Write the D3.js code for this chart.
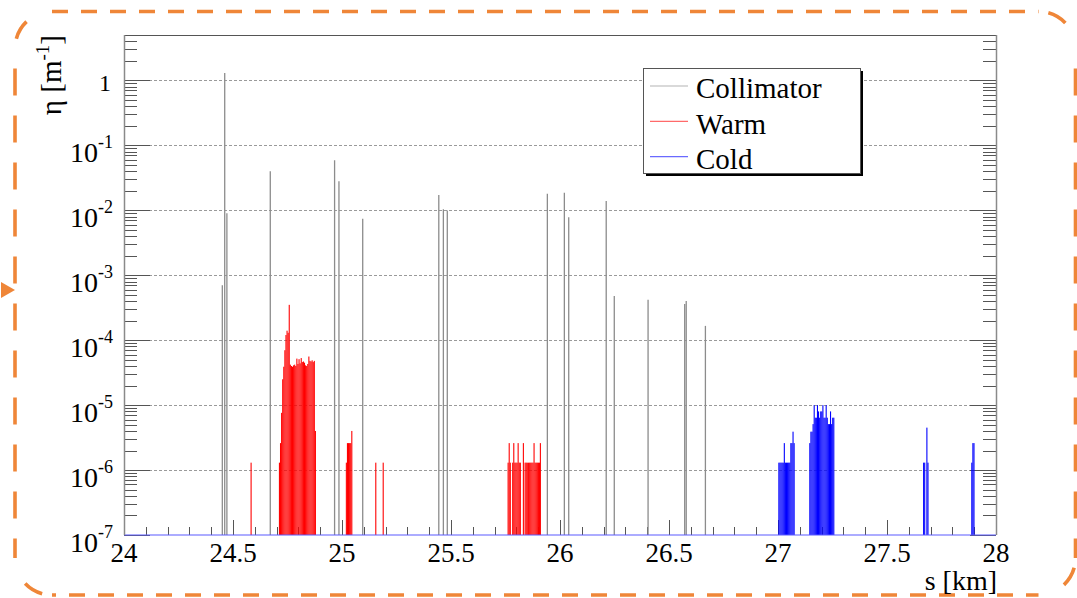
<!DOCTYPE html>
<html><head><meta charset="utf-8">
<script src="https://cdn.jsdelivr.net/npm/d3@7"></script>
<style>
html,body{margin:0;padding:0;background:#fff;overflow:hidden}
svg text{font-family:"Liberation Serif","Tinos","Times New Roman","DejaVu Serif",serif;}
</style>
</head><body>
<svg id="chart" width="1077" height="598"></svg>
<script>
// ---- data ----
const xMajorTicks = [24, 24.5, 25, 25.5, 26, 26.5, 27, 27.5, 28];
const xTickLabels = ["24", "24.5", "25", "25.5", "26", "26.5", "27", "27.5", "28"];
const yExponents = [-7, -6, -5, -4, -3, -2, -1, 0];
const seriesNames = ["Collimator", "Warm", "Cold"];
const seriesColors = ["#8c8c8c", "#ff0000", "#0000ff"];
const legendColors = ["#b4b4b4", "#ff6a6a", "#6a6aff"];
const xTitle = "s [km]";
const binWidth = 0.005; // km

const collimatorS = [24.451, 24.462, 24.472, 24.671, 24.966, 24.986, 25.095, 25.444, 25.465, 25.483,
                     25.942, 26.020, 26.040, 26.212, 26.249, 26.404, 26.572, 26.579, 26.667];
const collimatorEta = [7e-4, 1.3, 9e-3, 0.040, 0.059, 0.028, 7.4e-3, 0.0172, 0.0104, 0.0099,
                       0.018, 0.0186, 0.0078, 0.0139, 4.8e-4, 4.2e-4, 3.6e-4, 4.0e-4, 1.66e-4];

const warmS = [24.583,
  24.713, 24.718, 24.723, 24.728, 24.733, 24.738, 24.743, 24.748, 24.753, 24.758,
  24.763, 24.768, 24.773, 24.778, 24.783, 24.788, 24.793, 24.798, 24.803, 24.808,
  24.813, 24.818, 24.823, 24.828, 24.833, 24.838, 24.843, 24.848, 24.853, 24.858,
  24.863, 24.868, 24.873, 24.878,
  25.020, 25.025, 25.030, 25.035, 25.040, 25.045,
  25.155, 25.189,
  25.762, 25.767, 25.772, 25.783, 25.788, 25.793, 25.798, 25.803, 25.808, 25.813, 25.818,
  25.832, 25.840, 25.845, 25.850, 25.856, 25.861, 25.866, 25.871, 25.876, 25.881,
  25.886, 25.891, 25.896, 25.901, 25.906, 25.910];
const warmEta = [1.3e-6,
  1.3e-6, 2.6e-6, 7.6e-6, 2.5e-5, 3.9e-5, 7.0e-5, 1.2e-4, 1.4e-4, 1.3e-4, 3.5e-4,
  4.2e-5, 4.0e-5, 3.9e-5, 4.1e-5, 4.2e-5, 4.0e-5, 5.2e-5, 4.3e-5, 5.1e-5, 4.4e-5,
  5.3e-5, 4.6e-5, 4.7e-5, 4.5e-5, 4.1e-5, 4.0e-5, 4.3e-5, 5.6e-5, 4.8e-5, 4.7e-5,
  4.9e-5, 4.6e-5, 4.8e-5, 4.0e-6,
  1.3e-6, 2.6e-6, 2.6e-6, 2.6e-6, 2.6e-6, 4.0e-6,
  1.3e-6, 1.3e-6,
  1.3e-6, 2.6e-6, 1.3e-6, 1.3e-6, 2.6e-6, 1.3e-6, 1.3e-6, 1.3e-6, 2.6e-6, 1.3e-6, 1.3e-6,
  2.6e-6, 1.3e-6, 1.3e-6, 1.3e-6, 1.3e-6, 1.3e-6, 1.3e-6, 1.3e-6, 1.3e-6, 2.6e-6,
  1.3e-6, 1.3e-6, 1.3e-6, 1.3e-6, 1.3e-6, 2.6e-6];

const coldS = [27.004, 27.009, 27.014, 27.019, 27.024, 27.029, 27.034, 27.039, 27.044, 27.049,
  27.054, 27.059, 27.064, 27.069, 27.074,
  27.146, 27.151, 27.156, 27.161, 27.166, 27.171, 27.176, 27.181, 27.186, 27.191,
  27.196, 27.201, 27.206, 27.211, 27.216, 27.221, 27.226, 27.231, 27.236, 27.241,
  27.246, 27.251, 27.256,
  27.668, 27.673, 27.683, 27.688,
  27.889, 27.894, 27.899];
const coldEta = [1.3e-6, 1.3e-6, 1.3e-6, 1.3e-6, 1.3e-6, 2.6e-6, 1.3e-6, 1.3e-6, 1.3e-6, 1.3e-6,
  1.3e-6, 2.6e-6, 2.6e-6, 3.9e-6, 2.6e-6,
  2.6e-6, 3.9e-6, 3.9e-6, 5.1e-6, 1.0e-5, 6.4e-6, 6.4e-6, 1.0e-5, 8.0e-6, 6.4e-6,
  8.0e-6, 8.0e-6, 1.0e-5, 6.4e-6, 6.4e-6, 1.0e-5, 6.4e-6, 5.1e-6, 5.1e-6, 8.0e-6,
  5.1e-6, 6.4e-6, 6.4e-6,
  1.3e-6, 1.3e-6, 4.5e-6, 1.3e-6,
  1.3e-6, 2.6e-6, 2.6e-6];

// ---- layout ----
const svg = d3.select("#chart");
const L = 124, R = 996, T = 35, B = 535;
const x = d3.scaleLinear().domain([24, 28]).range([L, R]);
const y = d3.scaleLog().domain([1e-7, 5]).range([B, T]);
const ORANGE = "#ef8638";

// ---- outer dashed rounded frame ----
(function () {
  const l = 15, r = 1075.5, t = 11.5, b = 595, rad = 37;
  const g = svg.append("g").attr("fill", "none").attr("stroke", ORANGE).attr("stroke-width", 3.6);
  g.append("line").attr("x1", l + rad).attr("x2", r - rad).attr("y1", t).attr("y2", t)
    .attr("stroke-dasharray", "16,13");
  g.append("line").attr("x1", l + rad).attr("x2", r - rad).attr("y1", b).attr("y2", b)
    .attr("stroke-dasharray", "16,13").attr("stroke-dashoffset", 12);
  g.append("line").attr("x1", l).attr("x2", l).attr("y1", t + rad).attr("y2", b - rad)
    .attr("stroke-dasharray", "27,20").attr("stroke-dashoffset", 27);
  g.append("line").attr("x1", r).attr("x2", r).attr("y1", t + rad).attr("y2", b - rad)
    .attr("stroke-dasharray", "27,20").attr("stroke-dashoffset", 27);
  const corners = [
    `M${l},${t + rad} A${rad},${rad} 0 0 1 ${l + rad},${t}`,
    `M${r - rad},${t} A${rad},${rad} 0 0 1 ${r},${t + rad}`,
    `M${r},${b - rad} A${rad},${rad} 0 0 1 ${r - rad},${b}`,
    `M${l + rad},${b} A${rad},${rad} 0 0 1 ${l},${b - rad}`
  ];
  corners.forEach(d => g.append("path").attr("d", d).attr("stroke-dasharray", "0,10,20,40"));
  svg.append("path").attr("d", "M1,282 L15,290 L1,298 Z").attr("fill", ORANGE);
})();

// ---- grid ----
const gridG = svg.append("g");
yExponents.filter(e => e > -7).forEach(e => {
  const yy = Math.round(y(Math.pow(10, e))) + 0.5;
  gridG.append("line").attr("x1", L).attr("x2", R).attr("y1", yy).attr("y2", yy)
    .attr("stroke", "#9a9a9a").attr("stroke-width", 1).attr("stroke-dasharray", "3,2");
});

// ---- axes ticks ----
const axG = svg.append("g").attr("stroke", "#555").attr("stroke-width", 1);
yExponents.forEach(e => {
  const d = Math.pow(10, e);
  const yy = Math.round(y(d)) + 0.5;
  axG.append("line").attr("x1", L).attr("x2", L + 26).attr("y1", yy).attr("y2", yy);
  axG.append("line").attr("x1", R).attr("x2", R - 26).attr("y1", yy).attr("y2", yy);
  for (let k = 2; k <= 9; k++) {
    const v = k * d;
    if (v > 5.0001) continue;
    const ym = Math.round(y(v)) + 0.5;
    axG.append("line").attr("x1", L).attr("x2", L + 13).attr("y1", ym).attr("y2", ym);
    axG.append("line").attr("x1", R).attr("x2", R - 13).attr("y1", ym).attr("y2", ym);
  }
});
x.ticks(40).forEach(v => {
  const isMajor = xMajorTicks.some(m => Math.abs(m - v) < 1e-6);
  const xx = Math.round(x(v)) + 0.5;
  axG.append("line").attr("x1", xx).attr("x2", xx).attr("y1", B).attr("y2", B - (isMajor ? 15 : 8));
});

// ---- data ----
const dataG = svg.append("g");
collimatorS.forEach((s, i) => {
  const xx = x(s);
  dataG.append("line").attr("x1", xx).attr("x2", xx).attr("y1", y(1e-7)).attr("y2", y(collimatorEta[i]))
    .attr("stroke", seriesColors[0]).attr("stroke-width", 1.3);
});
function drawHist(sArr, vArr, color) {
  sArr.forEach((s, i) => {
    const x0 = x(s - binWidth / 2), x1 = x(s + binWidth / 2);
    dataG.append("rect").attr("x", x0).attr("width", x1 - x0)
      .attr("y", y(vArr[i])).attr("height", y(1e-7) - y(vArr[i]))
      .attr("fill", color);
  });
}
drawHist(warmS, warmEta, seriesColors[1]);
drawHist(coldS, coldEta, seriesColors[2]);
svg.append("line").attr("x1", L).attr("x2", R).attr("y1", B).attr("y2", B)
  .attr("stroke", "#5a5aff").attr("stroke-width", 1.2);

// ---- frame ----
svg.append("line").attr("x1", L).attr("x2", R).attr("y1", T + 0.5).attr("y2", T + 0.5)
  .attr("stroke", "#555").attr("stroke-width", 1);
svg.append("line").attr("x1", L + 0.5).attr("x2", L + 0.5).attr("y1", T).attr("y2", B)
  .attr("stroke", "#8a8a8a").attr("stroke-width", 1.5);
svg.append("line").attr("x1", R + 0.5).attr("x2", R + 0.5).attr("y1", T).attr("y2", B)
  .attr("stroke", "#8a8a8a").attr("stroke-width", 1.5);

// ---- tick labels ----
const txtG = svg.append("g").attr("fill", "#000");
xMajorTicks.forEach((v, i) => {
  txtG.append("text").attr("x", x(v)).attr("y", 562).attr("text-anchor", "middle")
    .attr("font-size", 27).text(xTickLabels[i]);
});
yExponents.forEach(e => {
  const yy = y(Math.pow(10, e));
  if (e === 0) {
    txtG.append("text").attr("x", 111).attr("y", yy + 10.5).attr("text-anchor", "end")
      .attr("font-size", 24).text("1");
  } else {
    const t = txtG.append("text").attr("x", 113).attr("y", yy + 16.5).attr("text-anchor", "end")
      .attr("font-size", 28);
    t.append("tspan").text("10");
    t.append("tspan").attr("dy", -13.5).attr("font-size", 18).text("-" + Math.abs(e));
  }
});

// ---- axis titles ----
const yt = txtG.append("text").attr("transform", "translate(61,35) rotate(-90)")
  .attr("text-anchor", "end").attr("font-size", 29);
yt.append("tspan").text("η [m");
yt.append("tspan").attr("dy", -12).attr("font-size", 19).text("-1");
yt.append("tspan").attr("dy", 12).text("]");
txtG.append("text").attr("x", 997).attr("y", 590).attr("text-anchor", "end")
  .attr("font-size", 28).text(xTitle);

// ---- legend ----
const lg = svg.append("g");
lg.append("rect").attr("x", 646).attr("y", 71).attr("width", 217).attr("height", 105).attr("fill", "#000");
lg.append("rect").attr("x", 643.5).attr("y", 68.5).attr("width", 217).attr("height", 105)
  .attr("fill", "#fff").attr("stroke", "#555").attr("stroke-width", 1);
seriesNames.forEach((n, i) => {
  const yy = 86 + i * 35.3;
  lg.append("line").attr("x1", 650).attr("x2", 688).attr("y1", yy).attr("y2", yy)
    .attr("stroke", legendColors[i]).attr("stroke-width", 1.2);
  lg.append("text").attr("x", 696).attr("y", 98 + i * 35.5)
    .attr("font-size", 29).attr("fill", "#000").text(n);
});
</script>
</body></html>
